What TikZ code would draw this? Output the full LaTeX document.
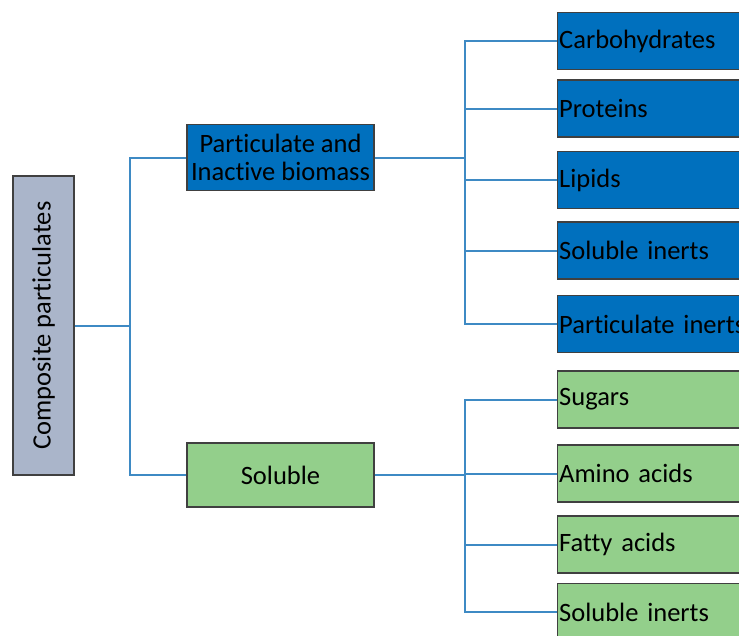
\documentclass[tikz,border=0pt]{standalone}
\usepackage{fontspec}
\setmainfont{Carlito}[Ligatures=NoCommon]
\definecolor{partblue}{RGB}{0,112,190}
\definecolor{solgreen}{RGB}{147,207,139}
\definecolor{compgray}{RGB}{170,181,202}
\definecolor{linkblue}{RGB}{62,138,196}
\definecolor{edgegray}{RGB}{64,64,64}

\begin{document}
\begin{tikzpicture}[
x=1pt, y=-1pt,
box/.style={draw=edgegray, line width=1.4pt, inner sep=0pt,
  font=\fontsize{26.5}{28.5}\selectfont},
link/.style={draw=linkblue, line width=2pt},
child/.style={box, anchor=west, text width=196pt, inner xsep=1.5pt,
  align=left, minimum height=57pt},
]
\useasboundingbox (0,0) rectangle (739,635);
\clip (0,0) rectangle (739,635);

\node[box, fill=compgray, minimum width=299pt, minimum height=61pt,
  rotate=90] (comp) at (43.5,325.5) {Composite particulates};

\node[box, fill=partblue, minimum width=187pt, minimum height=66pt,
  align=center] (part) at (280.5,157.5) {Particulate and\\Inactive biomass};
\node[box, fill=solgreen, minimum width=187pt, minimum height=64pt]
  (sol) at (280.5,475) {Soluble};

\node[child, fill=partblue] (carb) at (557,41) {Carbohydrates};
\node[child, fill=partblue] (prot) at (557,108.5) {Proteins};
\node[child, fill=partblue] (lip) at (557,180) {Lipids};
\node[child, fill=partblue] (sinb) at (557,250.5) {Soluble inerts};
\node[child, fill=partblue] (pin) at (557,324) {Particulate inerts};

\node[child, fill=solgreen] (sug) at (557,399.5) {Sugars};
\node[child, fill=solgreen] (amino) at (557,473.5) {Amino acids};
\node[child, fill=solgreen] (fatty) at (557,544.5) {Fatty acids};
\node[child, fill=solgreen] (sing) at (557,612) {Soluble inerts};

\coordinate (j1) at (130,325.5);
\coordinate (j2) at (465,157.5);
\coordinate (j3) at (465,475);

\draw[link] (comp.south) -- (j1);
\draw[link] (part.west) -| (j1) |- (sol.west);
\draw[link] (part.east) -- (j2);
\draw[link] (sol.east) -- (j3);
\foreach \n in {carb,prot,lip,sinb,pin}
  \draw[link] (j2) |- (\n.west);
\foreach \n in {sug,amino,fatty,sing}
  \draw[link] (j3) |- (\n.west);
\end{tikzpicture}
\end{document}
